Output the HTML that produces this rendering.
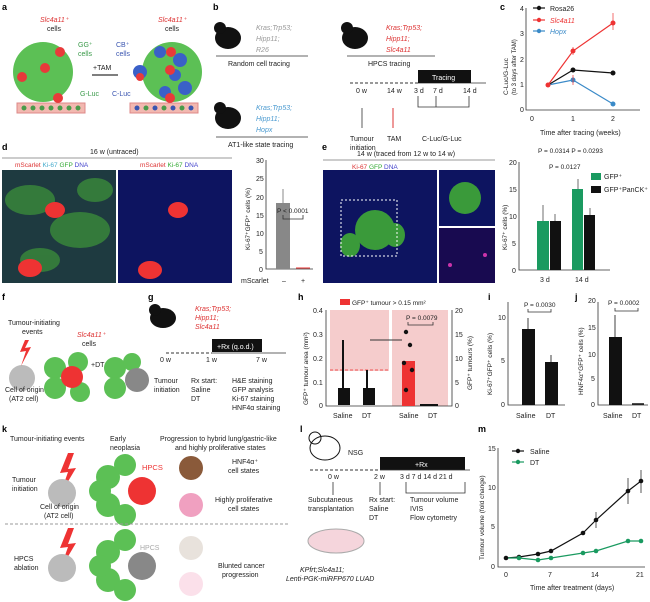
<!DOCTYPE html>
<html><head><meta charset="utf-8"><style>
html,body{margin:0;padding:0;background:#fff}
svg{display:block;font-family:"Liberation Sans",Arial,sans-serif}
text{font-size:7px;fill:#222}
.b{font-weight:bold;font-size:9px;fill:#000}
.ax{stroke:#333;stroke-width:0.8;fill:none}
</style></head><body>
<svg width="650" height="602" viewBox="0 0 650 602" xmlns="http://www.w3.org/2000/svg">
<!-- panel labels -->
<text class="b" x="2" y="10">a</text><text class="b" x="213" y="10">b</text><text class="b" x="500" y="10">c</text>
<text class="b" x="2" y="150">d</text><text class="b" x="322" y="150">e</text>
<text class="b" x="2" y="300">f</text><text class="b" x="148" y="300">g</text><text class="b" x="298" y="300">h</text><text class="b" x="488" y="300">i</text><text class="b" x="575" y="300">j</text>
<text class="b" x="2" y="432">k</text><text class="b" x="300" y="432">l</text><text class="b" x="478" y="432">m</text>

<!-- panel a -->
<rect x="17" y="103" width="68" height="10" fill="#f2b8b0" stroke="#d88"/>
<rect x="130" y="103" width="68" height="10" fill="#f2b8b0" stroke="#d88"/>
<g fill="#4a9a4a"><circle cx="24" cy="108" r="2.5"/><circle cx="33" cy="108" r="2.5"/><circle cx="42" cy="108" r="2.5"/><circle cx="51" cy="108" r="2.5"/><circle cx="60" cy="108" r="2.5"/><circle cx="69" cy="108" r="2.5"/><circle cx="78" cy="108" r="2.5"/>
<circle cx="146" cy="108" r="2.5"/><circle cx="164" cy="108" r="2.5"/><circle cx="182" cy="108" r="2.5"/></g>
<g fill="#3a55b0"><circle cx="137" cy="108" r="2.5"/><circle cx="155" cy="108" r="2.5"/><circle cx="173" cy="108" r="2.5"/><circle cx="191" cy="108" r="2.5"/></g>
<circle cx="43" cy="72" r="30" fill="#5cc055"/>
<circle cx="172" cy="72" r="30" fill="#5cc055"/>
<g fill="#3a60c8"><circle cx="140" cy="72" r="7"/><circle cx="160" cy="52" r="6"/><circle cx="180" cy="60" r="7"/><circle cx="185" cy="88" r="7"/><circle cx="165" cy="92" r="6"/><circle cx="175" cy="75" r="6"/></g>
<g fill="#e83a3a"><circle cx="60" cy="52" r="5"/><circle cx="22" cy="77" r="5"/><circle cx="58" cy="98" r="5"/><circle cx="45" cy="68" r="5"/><circle cx="171" cy="52" r="5"/><circle cx="140" cy="77" r="4"/><circle cx="170" cy="98" r="5"/><circle cx="170" cy="70" r="5"/></g>
<text x="40" y="22" style="fill:#d33;font-style:italic">Slc4a11⁺</text><text x="47" y="31">cells</text>
<text x="78" y="47" style="fill:#3a9a4a">GG⁺</text><text x="78" y="56" style="fill:#3a9a4a">cells</text>
<text x="80" y="96" style="fill:#3a9a4a">G-Luc</text>
<line x1="92" y1="75" x2="118" y2="75" stroke="#555" stroke-width="1.5"/><text x="93" y="70">+TAM</text>
<text x="158" y="22" style="fill:#d33;font-style:italic">Slc4a11⁺</text><text x="165" y="31">cells</text>
<text x="116" y="47" style="fill:#3a55b0">CB⁺</text><text x="116" y="56" style="fill:#3a55b0">cells</text>
<text x="112" y="96" style="fill:#3a55b0">C-Luc</text>

<!-- panel b -->
<g fill="#111"><ellipse cx="228" cy="38" rx="13" ry="11"/><circle cx="220" cy="28" r="6"/><ellipse cx="355" cy="38" rx="13" ry="11"/><circle cx="347" cy="28" r="6"/><ellipse cx="228" cy="118" rx="13" ry="11"/><circle cx="220" cy="108" r="6"/></g>
<g style="font-size:7px;font-style:italic">
<text x="256" y="30" style="fill:#999">Kras;Trp53;</text><text x="256" y="41" style="fill:#999">Hipp11;</text><text x="256" y="52" style="fill:#999">R26</text>
<text x="386" y="30" style="fill:#d33">Kras;Trp53;</text><text x="386" y="41" style="fill:#d33">Hipp11;</text><text x="386" y="52" style="fill:#d33">Slc4a11</text>
<text x="256" y="110" style="fill:#4a9ad0">Kras;Trp53;</text><text x="256" y="121" style="fill:#4a9ad0">Hipp11;</text><text x="256" y="132" style="fill:#4a9ad0">Hopx</text></g>
<line x1="216" y1="56" x2="308" y2="56" class="ax"/><text x="228" y="66">Random cell tracing</text>
<line x1="347" y1="56" x2="435" y2="56" class="ax"/><text x="368" y="66">HPCS tracing</text>
<line x1="216" y1="137" x2="308" y2="137" class="ax"/><text x="228" y="147">AT1-like state tracing</text>
<line x1="350" y1="83" x2="418" y2="83" stroke="#333" stroke-dasharray="3,2"/><line x1="418" y1="83" x2="486" y2="83" class="ax"/>
<rect x="418" y="70" width="53" height="13" fill="#111"/><text x="432" y="80" style="fill:#fff">Tracing</text>
<text x="356" y="93">0 w</text><text x="387" y="93">14 w</text><text x="414" y="93">3 d</text><text x="433" y="93">7 d</text><text x="463" y="93">14 d</text>
<line x1="362" y1="128" x2="362" y2="108" class="ax"/><line x1="393" y1="128" x2="393" y2="108" stroke="#d33"/>
<path d="M418 96V107H469V96M436 96V107" class="ax"/>
<text x="350" y="141">Tumour</text><text x="350" y="150">initiation</text><text x="387" y="141">TAM</text><text x="422" y="141">C-Luc/G-Luc</text>

<!-- panel c -->
<path d="M526 8V110H640" class="ax"/>
<g style="font-size:6.5px"><text x="520" y="11">4</text><text x="520" y="36">3</text><text x="520" y="62">2</text><text x="520" y="87">1</text><text x="520" y="112">0</text>
<text x="530" y="121">0</text><text x="571" y="121">1</text><text x="611" y="121">2</text></g>
<text x="540" y="135">Time after tracing (weeks)</text>
<text transform="translate(508,95) rotate(-90)" style="font-size:6.5px">C-Luc/G-Luc</text>
<text transform="translate(516,95) rotate(-90)" style="font-size:6px">(to 3 days after TAM)</text>
<polyline points="548,85 573,70 613,73" fill="none" stroke="#111" stroke-width="1.2"/>
<polyline points="548,85 573,51 613,23" fill="none" stroke="#e33" stroke-width="1.2"/>
<polyline points="548,85 573,80 613,104" fill="none" stroke="#3a8ac8" stroke-width="1.2"/>
<circle cx="573" cy="70" r="2.5" fill="#111"/><circle cx="613" cy="73" r="2.5" fill="#111"/>
<circle cx="573" cy="51" r="2.5" fill="#e33"/><circle cx="613" cy="23" r="2.5" fill="#e33"/>
<circle cx="573" cy="80" r="2.5" fill="#3a8ac8"/><circle cx="613" cy="104" r="2.5" fill="#3a8ac8"/><circle cx="548" cy="85" r="2.5" fill="#e33"/>
<path d="M613 13V30M573 47V55M573 75V85" stroke="#e33" stroke-width=".7"/>
<line x1="533" y1="8" x2="545" y2="8" stroke="#111" stroke-width="1.2"/><circle cx="539" cy="8" r="2.2" fill="#111"/><text x="550" y="11">Rosa26</text>
<line x1="533" y1="20" x2="545" y2="20" stroke="#e33" stroke-width="1.2"/><circle cx="539" cy="20" r="2.2" fill="#e33"/><text x="550" y="23" style="fill:#e33;font-style:italic">Slc4a11</text>
<line x1="533" y1="31" x2="545" y2="31" stroke="#3a8ac8" stroke-width="1.2"/><circle cx="539" cy="31" r="2.2" fill="#3a8ac8"/><text x="550" y="34" style="fill:#3a8ac8;font-style:italic">Hopx</text>

<!-- panel d -->
<text x="90" y="154">16 w (untraced)</text><line x1="2" y1="158" x2="232" y2="158" stroke="#999"/>
<text x="15" y="167" style="font-size:6.5px;fill:#d33">mScarlet <tspan style="fill:#4ac">Ki-67</tspan> <tspan style="fill:#3a3">GFP</tspan> <tspan style="fill:#44c">DNA</tspan></text>
<text x="140" y="167" style="font-size:6.5px;fill:#d33">mScarlet <tspan style="fill:#3a3">Ki-67</tspan> <tspan style="fill:#44c">DNA</tspan></text>
<rect x="2" y="170" width="114" height="113" fill="#1e3a40"/>
<g fill="#3a8a3a" opacity=".8"><ellipse cx="30" cy="200" rx="25" ry="15"/><ellipse cx="80" cy="230" rx="30" ry="18"/><ellipse cx="40" cy="260" rx="20" ry="12"/><ellipse cx="95" cy="190" rx="18" ry="12"/></g>
<rect x="118" y="170" width="114" height="113" fill="#0d1460"/>
<g fill="#e33"><ellipse cx="55" cy="210" rx="10" ry="8"/><ellipse cx="30" cy="268" rx="12" ry="9"/><ellipse cx="178" cy="210" rx="10" ry="8"/><ellipse cx="150" cy="270" rx="12" ry="9"/></g>
<path d="M266 160V269H313" class="ax"/>
<g style="font-size:6.5px"><text x="256" y="163">30</text><text x="256" y="181">25</text><text x="256" y="200">20</text><text x="256" y="218">15</text><text x="256" y="236">10</text><text x="259" y="254">5</text><text x="259" y="272">0</text></g>
<rect x="276" y="203" width="14" height="66" fill="#888"/><line x1="283" y1="189" x2="283" y2="203" stroke="#888"/>
<line x1="296" y1="268" x2="310" y2="268" stroke="#e33"/>
<text x="277" y="213" style="font-size:6.5px">P &lt; 0.0001</text><path d="M283 215V219H303V215" class="ax"/>
<text x="241" y="283">mScarlet</text><text x="282" y="283">–</text><text x="301" y="283">+</text>
<text transform="translate(250,250) rotate(-90)" style="font-size:6.5px">Ki-67⁺GFP⁺ cells (%)</text>

<!-- panel e -->
<text x="357" y="156">14 w (traced from 12 w to 14 w)</text><line x1="323" y1="160" x2="495" y2="160" stroke="#999"/>
<text x="352" y="169" style="font-size:6.5px;fill:#d33">Ki-67 <tspan style="fill:#3a3">GFP</tspan> <tspan style="fill:#44c">DNA</tspan></text>
<rect x="323" y="170" width="114" height="113" fill="#0d1460"/>
<g fill="#3a9a3a"><ellipse cx="375" cy="230" rx="20" ry="20"/><ellipse cx="350" cy="245" rx="10" ry="12"/><ellipse cx="395" cy="235" rx="10" ry="12"/></g>
<rect x="341" y="200" width="56" height="56" fill="none" stroke="#fff" stroke-dasharray="2,2"/>
<rect x="439" y="170" width="56" height="56" fill="#0d1460"/><ellipse cx="465" cy="198" rx="16" ry="16" fill="#3a9a3a"/>
<rect x="439" y="228" width="56" height="55" fill="#180a50"/><g fill="#c3a"><circle cx="450" cy="265" r="2"/><circle cx="485" cy="255" r="2"/></g>
<path d="M519 162V270H610" class="ax"/>
<g style="font-size:6.5px"><text x="509" y="165">20</text><text x="509" y="192">15</text><text x="509" y="219">10</text><text x="512" y="246">5</text><text x="512" y="273">0</text></g>
<rect x="537" y="221" width="12" height="49" fill="#1a9a60"/><rect x="550" y="221" width="11" height="49" fill="#111"/>
<rect x="572" y="189" width="11" height="81" fill="#1a9a60"/><rect x="584" y="215" width="11" height="55" fill="#111"/>
<path d="M543 205V221M555 214V221M578 179V189M590 208V215" stroke="#333" stroke-width=".7"/>
<text x="540" y="282">3 d</text><text x="575" y="282">14 d</text>
<text x="538" y="153" style="font-size:6.5px">P = 0.0314  P = 0.0293</text><text x="549" y="169" style="font-size:6.5px">P = 0.0127</text>
<text transform="translate(507,250) rotate(-90)" style="font-size:6.5px">Ki-67⁺ cells (%)</text>
<rect x="591" y="173" width="10" height="7" fill="#1a9a60"/><text x="604" y="179">GFP⁺</text>
<rect x="591" y="186" width="10" height="7" fill="#111"/><text x="604" y="192">GFP⁺PanCK⁺</text>

<!-- panel f -->
<circle cx="22" cy="378" r="13" fill="#bbb"/>
<g fill="#5cc055"><circle cx="55" cy="368" r="11"/><circle cx="55" cy="388" r="11"/><circle cx="78" cy="362" r="10"/><circle cx="80" cy="392" r="10"/><circle cx="115" cy="368" r="11"/><circle cx="115" cy="388" r="11"/><circle cx="132" cy="362" r="9"/></g>
<circle cx="72" cy="377" r="11" fill="#e33"/><circle cx="137" cy="380" r="12" fill="#888"/>
<polygon points="25,340 20,352 26,351 21,366 31,347 25,348 29,340" fill="#e33"/>
<text x="8" y="325">Tumour-initiating</text><text x="22" y="334">events</text>
<text x="77" y="337" style="fill:#d33;font-style:italic">Slc4a11⁺</text><text x="82" y="346">cells</text>
<text x="91" y="367">+DT</text><text x="5" y="392">Cell of origin</text><text x="9" y="401">(AT2 cell)</text>

<!-- panel g -->
<ellipse cx="163" cy="318" rx="13" ry="10" fill="#111"/><circle cx="155" cy="310" r="6" fill="#111"/>
<text x="195" y="311" style="fill:#d33;font-style:italic">Kras;Trp53;</text><text x="195" y="320" style="fill:#d33;font-style:italic">Hipp11;</text><text x="195" y="329" style="fill:#d33;font-style:italic">Slc4a11</text>
<rect x="212" y="339" width="50" height="13" fill="#111"/><text x="217" y="349" style="fill:#fff">+Rx (q.o.d.)</text>
<line x1="166" y1="353" x2="212" y2="353" stroke="#333" stroke-dasharray="3,2"/><line x1="212" y1="353" x2="286" y2="353" class="ax"/>
<text x="160" y="362">0 w</text><text x="206" y="362">1 w</text><text x="256" y="362">7 w</text>
<text x="154" y="383">Tumour</text><text x="154" y="392">initiation</text>
<text x="191" y="383">Rx start:</text><text x="191" y="392">Saline</text><text x="191" y="401">DT</text>
<text x="232" y="383">H&amp;E staining</text><text x="232" y="392">GFP analysis</text><text x="232" y="401">Ki-67 staining</text><text x="232" y="410">HNF4α staining</text>

<!-- panel h -->
<rect x="330" y="310" width="59" height="61" fill="#f5cccc"/><rect x="392" y="310" width="56" height="96" fill="#f5cccc"/>
<line x1="330" y1="370" x2="389" y2="370" stroke="#e55" stroke-dasharray="3,2"/>
<path d="M326 310V406H452V310" class="ax"/>
<g style="font-size:6.5px"><text x="313" y="313">0.4</text><text x="313" y="337">0.3</text><text x="313" y="361">0.2</text><text x="313" y="385">0.1</text><text x="319" y="408">0</text>
<text x="455" y="313">20</text><text x="455" y="337">15</text><text x="455" y="361">10</text><text x="455" y="385">5</text><text x="455" y="408">0</text></g>
<g fill="#111"><rect x="338" y="388" width="12" height="17"/><rect x="363" y="388" width="12" height="17"/><rect x="342" y="340" width="2" height="48"/><rect x="366" y="370" width="2" height="18"/></g>
<rect x="402" y="361" width="13" height="45" fill="#e33"/>
<g fill="#111"><circle cx="406" cy="332" r="2.2"/><circle cx="410" cy="345" r="2.2"/><circle cx="412" cy="370" r="2.2"/><circle cx="406" cy="390" r="2.2"/><circle cx="404" cy="363" r="2.2"/></g>
<line x1="420" y1="405" x2="438" y2="405" stroke="#111" stroke-width="2"/>
<line x1="370" y1="340" x2="402" y2="340" stroke="#333"/>
<text x="406" y="320" style="font-size:6.5px">P = 0.0079</text><path d="M408 322V325H433V322" class="ax"/>
<rect x="340" y="299" width="10" height="6" fill="#e33"/><text x="352" y="305" style="font-size:6.5px">GFP⁺ tumour &gt; 0.15 mm²</text>
<text x="333" y="418">Saline</text><text x="362" y="418">DT</text><text x="399" y="418">Saline</text><text x="428" y="418">DT</text>
<text transform="translate(308,405) rotate(-90)" style="font-size:6.5px">GFP⁺ tumour area (mm²)</text>
<text transform="translate(472,390) rotate(-90)" style="font-size:6.5px">GFP⁺ tumours (%)</text>

<!-- panel i -->
<path d="M508 302V405H565" class="ax"/>
<g style="font-size:6.5px"><text x="498" y="320">10</text><text x="501" y="363">5</text><text x="501" y="407">0</text></g>
<rect x="522" y="329" width="13" height="76" fill="#111"/><rect x="545" y="362" width="13" height="43" fill="#111"/>
<path d="M528 318V329M551 355V362" stroke="#111" stroke-width=".8"/>
<text x="524" y="307" style="font-size:6.5px">P = 0.0030</text><path d="M528 309V312H551V309" class="ax"/>
<text x="516" y="418">Saline</text><text x="546" y="418">DT</text>
<text transform="translate(492,395) rotate(-90)" style="font-size:6.5px">Ki-67⁺GFP⁺ cells (%)</text>

<!-- panel j -->
<path d="M598 302V405H648" class="ax"/>
<g style="font-size:6.5px"><text x="588" y="303">20</text><text x="588" y="330">15</text><text x="588" y="357">10</text><text x="591" y="381">5</text><text x="591" y="407">0</text></g>
<rect x="609" y="337" width="13" height="68" fill="#111"/><line x1="632" y1="404" x2="644" y2="404" stroke="#111" stroke-width="1.5"/>
<line x1="615" y1="315" x2="615" y2="337" stroke="#111" stroke-width=".8"/>
<text x="608" y="305" style="font-size:6.5px">P = 0.0002</text><path d="M615 308V311H638V308" class="ax"/>
<text x="603" y="418">Saline</text><text x="632" y="418">DT</text>
<text transform="translate(583,395) rotate(-90)" style="font-size:6.5px">HNF4α⁺GFP⁺ cells (%)</text>

<!-- panel k -->
<text x="10" y="441">Tumour-initiating events</text><text x="110" y="441">Early</text><text x="110" y="450">neoplasia</text>
<text x="160" y="441">Progression to hybrid lung/gastric-like</text><text x="175" y="450">and highly proliferative states</text>
<polygon points="68,453 60,473 68,472 60,495 76,468 68,469 74,453" fill="#e33"/>
<circle cx="62" cy="493" r="14" fill="#bbb"/>
<g fill="#5cc055"><circle cx="108" cy="477" r="12"/><circle cx="108" cy="505" r="12"/><circle cx="125" cy="465" r="11"/><circle cx="125" cy="515" r="11"/><circle cx="100" cy="491" r="11"/></g>
<circle cx="142" cy="491" r="14" fill="#e33"/><text x="142" y="470" style="fill:#e33;font-size:7.5px">HPCS</text>
<circle cx="191" cy="468" r="12" fill="#8a5a3a"/><circle cx="191" cy="505" r="12" fill="#f0a0c0"/>
<text x="232" y="464">HNF4α⁺</text><text x="228" y="473">cell states</text>
<text x="215" y="502">Highly proliferative</text><text x="228" y="511">cell states</text>
<text x="12" y="482">Tumour</text><text x="12" y="491">initiation</text>
<text x="40" y="509">Cell of origin</text><text x="44" y="518">(AT2 cell)</text>
<line x1="5" y1="524" x2="290" y2="524" stroke="#999" stroke-dasharray="3,2"/>
<polygon points="68,528 60,548 68,547 60,570 76,543 68,544 74,528" fill="#e33"/>
<circle cx="62" cy="568" r="14" fill="#bbb"/>
<g fill="#5cc055"><circle cx="108" cy="552" r="12"/><circle cx="108" cy="580" r="12"/><circle cx="125" cy="540" r="11"/><circle cx="125" cy="590" r="11"/><circle cx="100" cy="566" r="11"/></g>
<circle cx="142" cy="566" r="14" fill="#888"/><text x="140" y="550" style="fill:#aaa;font-size:7px">HPCS</text>
<circle cx="191" cy="548" r="12" fill="#e8e2dc"/><circle cx="191" cy="584" r="12" fill="#fbe0ea"/>
<text x="14" y="561">HPCS</text><text x="14" y="570">ablation</text>
<text x="218" y="568">Blunted cancer</text><text x="222" y="577">progression</text>

<!-- panel l -->
<ellipse cx="325" cy="448" rx="15" ry="12" fill="none" stroke="#111"/><circle cx="315" cy="438" r="6" fill="none" stroke="#111"/>
<text x="348" y="455">NSG</text>
<rect x="380" y="457" width="85" height="13" fill="#111"/><text x="415" y="467" style="fill:#fff">+Rx</text>
<line x1="310" y1="470" x2="380" y2="470" stroke="#333" stroke-dasharray="3,2"/><line x1="380" y1="470" x2="470" y2="470" class="ax"/>
<text x="328" y="479">0 w</text><text x="374" y="479">2 w</text><text x="400" y="479">3 d  7 d  14 d   21 d</text>
<path d="M333 495V482M380 495V482" class="ax"/><path d="M406 482V493H465V482" class="ax"/>
<text x="308" y="502">Subcutaneous</text><text x="308" y="511">transplantation</text>
<text x="369" y="502">Rx start:</text><text x="369" y="511">Saline</text><text x="369" y="520">DT</text>
<text x="410" y="502">Tumour volume</text><text x="410" y="511">IVIS</text><text x="410" y="520">Flow cytometry</text>
<ellipse cx="336" cy="541" rx="28" ry="12" fill="#f5d5dc" stroke="#aaa"/>
<text x="300" y="572" style="font-style:italic">KPfrt;Slc4a11;</text><text x="286" y="581" style="font-style:italic">Lenti-PGK-miRFP670 LUAD</text>

<!-- panel m -->
<path d="M498 448V567H645" class="ax"/>
<g style="font-size:6.5px"><text x="488" y="451">15</text><text x="488" y="490">10</text><text x="491" y="529">5</text><text x="491" y="569">0</text>
<text x="504" y="577">0</text><text x="548" y="577">7</text><text x="591" y="577">14</text><text x="636" y="577">21</text></g>
<text x="530" y="590">Time after treatment (days)</text>
<text transform="translate(484,560) rotate(-90)" style="font-size:6.5px">Tumour volume (fold change)</text>
<polyline points="506,558 519,557 538,554 551,551 583,533 596,520 628,491 641,481" fill="none" stroke="#111" stroke-width="1.2"/>
<polyline points="506,558 519,558 538,560 551,558 583,553 596,551 628,541 641,541" fill="none" stroke="#1a9a60" stroke-width="1.2"/>
<g fill="#111"><circle cx="506" cy="558" r="2.3"/><circle cx="519" cy="557" r="2.3"/><circle cx="538" cy="554" r="2.3"/><circle cx="551" cy="551" r="2.3"/><circle cx="583" cy="533" r="2.3"/><circle cx="596" cy="520" r="2.3"/><circle cx="628" cy="491" r="2.3"/><circle cx="641" cy="481" r="2.3"/></g>
<g fill="#1a9a60"><circle cx="519" cy="558" r="2.3"/><circle cx="538" cy="560" r="2.3"/><circle cx="551" cy="558" r="2.3"/><circle cx="583" cy="553" r="2.3"/><circle cx="596" cy="551" r="2.3"/><circle cx="628" cy="541" r="2.3"/><circle cx="641" cy="541" r="2.3"/></g>
<path d="M628 478V504M641 470V493M596 512V528" stroke="#111" stroke-width=".7"/>
<line x1="512" y1="451" x2="524" y2="451" stroke="#111" stroke-width="1.2"/><circle cx="518" cy="451" r="2.2" fill="#111"/><text x="530" y="454">Saline</text>
<line x1="512" y1="462" x2="524" y2="462" stroke="#1a9a60" stroke-width="1.2"/><circle cx="518" cy="462" r="2.2" fill="#1a9a60"/><text x="530" y="465">DT</text>
</svg>
</body></html>
